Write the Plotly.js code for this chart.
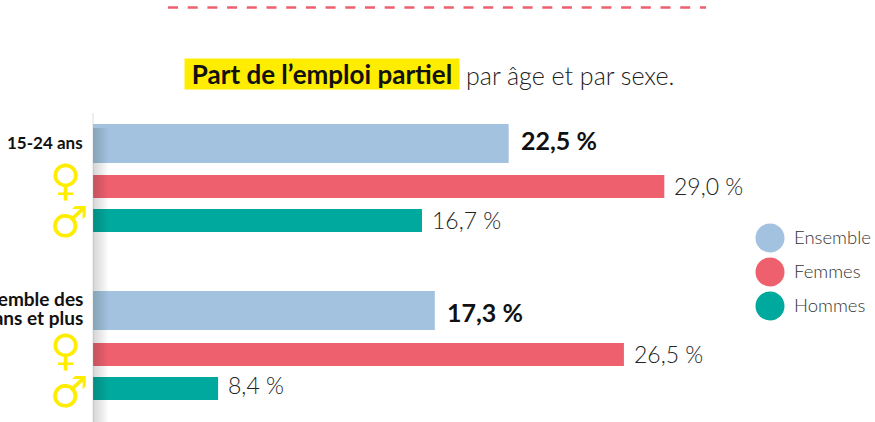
<!DOCTYPE html>
<html><head><meta charset="utf-8">
<script src="https://cdn.plot.ly/plotly-3.0.0.min.js"></script>
<style>html,body{margin:0;padding:0;background:#fff;overflow:hidden}</style></head>
<body><div id="chart" style="width:875px;height:422px"></div>
<script>
// Data
const groupLines = [["15-24 ans"], ["Ensemble des", "15 ans et plus"]];
const series = ["Ensemble", "Femmes", "Hommes"];
const colors = ["#a2c2e0", "#ef606e", "#00a99d"];
const valueLabels = ["22,5 %", "29,0 %", "16,7 %", "17,3 %", "26,5 %", "8,4 %"];
// Drawn bar lengths (the source bars are not all to scale with their labels)
const ensembleBars = [21.1, 17.35];
const femmesBars = [29.0, 26.95];
const hommesBars = [16.7, 6.35];
const symbols = ["♀", "♂", "♀", "♂"];

// Layout constants (pixel-mapped axes)
const W = 875, H = 422, X0 = 93, PXU = 19.7;
const px = p => (p - X0) / PXU;
const FONT = "Lato, 'Open Sans', sans-serif";
const ensembleY = [143.5, 310.5], femmesY = [186.5, 354.5], hommesY = [220.5, 388.5];
const barH = [39, 23, 23];
const allBars = [ensembleBars[0], femmesBars[0], hommesBars[0], ensembleBars[1], femmesBars[1], hommesBars[1]];
const allY = [ensembleY[0], femmesY[0], hommesY[0], ensembleY[1], femmesY[1], hommesY[1]];
const labelDy = [-3.5, -1, -1, 1.5, -1, -4];
const legendY = [238, 272, 306];

const bar = (name, x, y, i) => ({type: "bar", orientation: "h", name, x, y, width: barH[i],
  base: 0, marker: {color: colors[i], line: {width: 0}}, hoverinfo: "skip"});
const traces = [
  bar(series[0], ensembleBars, ensembleY, 0),
  bar(series[1], femmesBars, femmesY, 1),
  bar(series[2], hommesBars, hommesY, 2),
  {type: "scatter", mode: "markers", x: legendY.map(() => px(770)), y: legendY,
   marker: {size: 29, color: colors}, hoverinfo: "skip", cliponaxis: false}
];

const annotations = [];
const ann = o => annotations.push(Object.assign({xref: "x", yref: "y", showarrow: false, borderpad: 0}, o));
// value labels
valueLabels.forEach((t, i) => {
  const bold = i % 3 === 0;
  ann({x: allBars[i], y: allY[i] + labelDy[i], text: bold ? "<b>" + t + "</b>" : t, xanchor: "left", xshift: bold ? 11 : 9,
       font: {family: FONT, size: bold ? 25 : 23, color: bold ? "#111" : "#222", weight: bold ? 700 : 300}});
});
// legend labels
series.forEach((s, i) => ann({x: px(793), y: legendY[i] - 1, text: s, xanchor: "left",
  font: {family: FONT, size: 18.5, color: "#333", weight: 300}}));
// group labels
ann({x: px(84), y: 142, text: "<b>" + groupLines[0][0] + "</b>", xanchor: "right", font: {family: FONT, size: 17, color: "#111"}});
ann({x: px(84), y: 298.5, text: "<b>" + groupLines[1][0] + "</b>", xanchor: "right", font: {family: FONT, size: 19, color: "#111"}});
ann({x: px(84), y: 317, text: "<b>" + groupLines[1][1] + "</b>", xanchor: "right", font: {family: FONT, size: 19, color: "#111"}});
// gender symbols
[[66, 180], [69, 222], [66, 350], [69, 392]].forEach((p, i) => ann({x: px(p[0]), y: p[1], text: "<b>" + symbols[i] + "</b>",
  font: {family: "DejaVu Sans", size: 43, color: "#ffed00"}}));
// title
ann({x: px(322), y: 74, text: "<b>Part de l’emploi partiel</b>", width: 274, height: 30, bgcolor: "#ffed00",
     font: {family: FONT, size: 26, color: "#111"}});
ann({x: px(465), y: 74.5, text: "par âge et par sexe.", xanchor: "left", font: {family: FONT, size: 25, color: "#222", weight: 300}});

const shapes = [{type: "line", xref: "x", yref: "y", x0: px(168), x1: px(706), y0: 7.5, y1: 7.5,
  line: {color: "#ef606e", width: 2.5, dash: "10px,9.7px"}}];
// soft shadow along the axis
for (let k = 0; k < 14; k++) {
  shapes.push({type: "rect", xref: "x", yref: "y", x0: px(93), x1: px(94 + k * 1.1), y0: 128, y1: 422,
    fillcolor: "rgba(90,90,90,0.016)", line: {width: 0}, layer: "above"});
}
shapes.push({type: "line", xref: "x", yref: "y", x0: 0, x1: 0, y0: 113, y1: 422, line: {color: "rgba(170,170,170,0.4)", width: 1}, layer: "above"});

Plotly.newPlot("chart", traces, {
  width: W, height: H, margin: {l: 0, r: 0, t: 0, b: 0}, showlegend: false,
  paper_bgcolor: "#fff", plot_bgcolor: "#fff", barmode: "overlay",
  xaxis: {range: [px(0), px(W)], visible: false, fixedrange: true},
  yaxis: {range: [H, 0], visible: false, fixedrange: true},
  annotations, shapes
}, {displayModeBar: false, staticPlot: true});
</script></body></html>
